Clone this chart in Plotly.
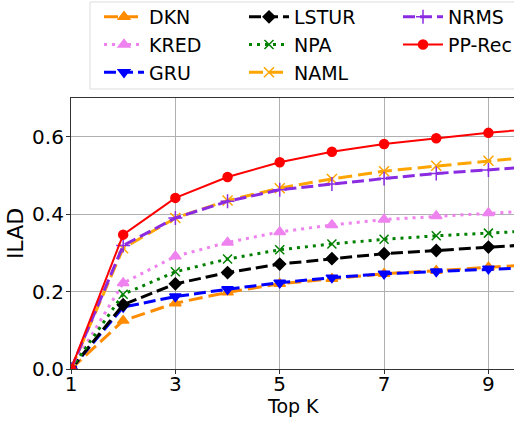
import plotly.graph_objects as go

top_k = [1, 2, 3, 4, 5, 6, 7, 8, 9, 10]
x_ticks = [1, 3, 5, 7, 9]
y_ticks = [0.0, 0.2, 0.4, 0.6]
y_tick_labels = ["0.0", "0.2", "0.4", "0.6"]

dkn = [0.0, 0.125, 0.170, 0.198, 0.220, 0.233, 0.246, 0.254, 0.263, 0.271]
kred = [0.0, 0.222, 0.291, 0.327, 0.354, 0.372, 0.386, 0.395, 0.403, 0.410]
gru = [0.0, 0.160, 0.187, 0.206, 0.223, 0.236, 0.246, 0.252, 0.259, 0.263]
lstur = [0.0, 0.166, 0.220, 0.249, 0.271, 0.285, 0.298, 0.306, 0.315, 0.323]
npa = [0.0, 0.193, 0.251, 0.284, 0.308, 0.323, 0.335, 0.344, 0.351, 0.358]
naml = [0.0, 0.312, 0.390, 0.435, 0.467, 0.491, 0.511, 0.525, 0.538, 0.550]
nrms = [0.0, 0.319, 0.390, 0.433, 0.463, 0.478, 0.492, 0.505, 0.514, 0.524]
pprec = [0.0, 0.347, 0.442, 0.496, 0.534, 0.561, 0.581, 0.596, 0.610, 0.622]

series = [
    ("DKN", dkn, "#FF8C00", "14px,6px", "triangle-up", 10, 3, "legend"),
    ("KRED", kred, "#EE82EE", "3px,5px", "triangle-up", 10, 3, "legend"),
    ("GRU", gru, "#0000FF", "12px,5px", "triangle-down", 10, 3, "legend"),
    ("LSTUR", lstur, "#000000", "12px,5px", "diamond", 9, 3, "legend2"),
    ("NPA", npa, "#008000", "3px,5px", "x-thin-open", 9, 3, "legend2"),
    ("NAML", naml, "#FFA500", "14px,6px", "x-thin-open", 10, 3, "legend2"),
    ("NRMS", nrms, "#8A2BE2", "12px,5px", "cross-thin-open", 10, 3, "legend3"),
    ("PP-Rec", pprec, "#FF0000", "solid", "circle", 9, 2, "legend3"),
]

fig = go.Figure()
for name, vals, color, dash, sym, msize, lw, leg in series:
    fig.add_trace(go.Scatter(
        x=top_k, y=vals, name=name, mode="lines+markers",
        line=dict(color=color, dash=dash, width=lw),
        marker=dict(symbol=sym, size=msize, color=color,
                    line=dict(color=color, width=1.5)),
        legend=leg, legendgroup=name,
    ))

W, H = 514, 425
L, R, T, B = 71, 514, 98, 369


def px(xp):
    return (xp - L) / (R - L)


def py(yp):
    return (B - yp) / (B - T)


font = "DejaVu Sans"
legend_common = dict(
    font=dict(family=font, size=19, color="black"),
    bgcolor="rgba(0,0,0,0)", borderwidth=0, itemwidth=40,
    yanchor="top", xanchor="left", tracegroupgap=0,
)

fig.update_layout(
    width=W, height=H,
    margin=dict(l=L, r=W - R, t=T, b=H - B, autoexpand=False),
    paper_bgcolor="white", plot_bgcolor="white",
    font=dict(family=font, size=20, color="black"),
    showlegend=True,
    legend=dict(x=px(99), y=py(-2), **legend_common),
    legend2=dict(x=px(244), y=py(-2), **legend_common),
    legend3=dict(x=px(398), y=py(-2), **legend_common),
    shapes=[dict(type="rect", xref="paper", yref="paper",
                 x0=px(90), x1=px(530), y0=py(89), y1=py(2),
                 line=dict(color="#dddddd", width=1), fillcolor="white",
                 layer="below")],
    annotations=[dict(text="Top K", xref="paper", yref="paper",
                      x=0.5 * (px(71) + px(514)), y=py(406),
                      xanchor="center", yanchor="middle", showarrow=False,
                      font=dict(family=font, size=19, color="black"))],
)

fig.update_xaxes(
    range=[1, 9.49], tickvals=x_ticks, ticktext=[str(v) for v in x_ticks],
    showgrid=True, gridcolor="#b0b0b0", gridwidth=1,
    showline=True, linecolor="#333333", linewidth=1.2, mirror=True,
    ticks="outside", ticklen=4, tickcolor="#333333",
    tickfont=dict(family=font, size=20), automargin=False,
    ticklabelstandoff=-7,
    zeroline=False,
)
fig.update_yaxes(
    range=[0, 0.7], tickvals=y_ticks, ticktext=y_tick_labels,
    showgrid=True, gridcolor="#b0b0b0", gridwidth=1,
    showline=True, linecolor="#333333", linewidth=1.2,
    ticks="outside", ticklen=4, tickcolor="#333333",
    tickfont=dict(family=font, size=20), automargin=False,
    ticklabelstandoff=-2,
    title=dict(text="ILAD", font=dict(family=font, size=22), standoff=2),
    zeroline=False,
)

fig.write_html("out.html", config={"displayModeBar": False},
               post_script="document.body.style.margin='0px';document.body.style.padding='0px';")
